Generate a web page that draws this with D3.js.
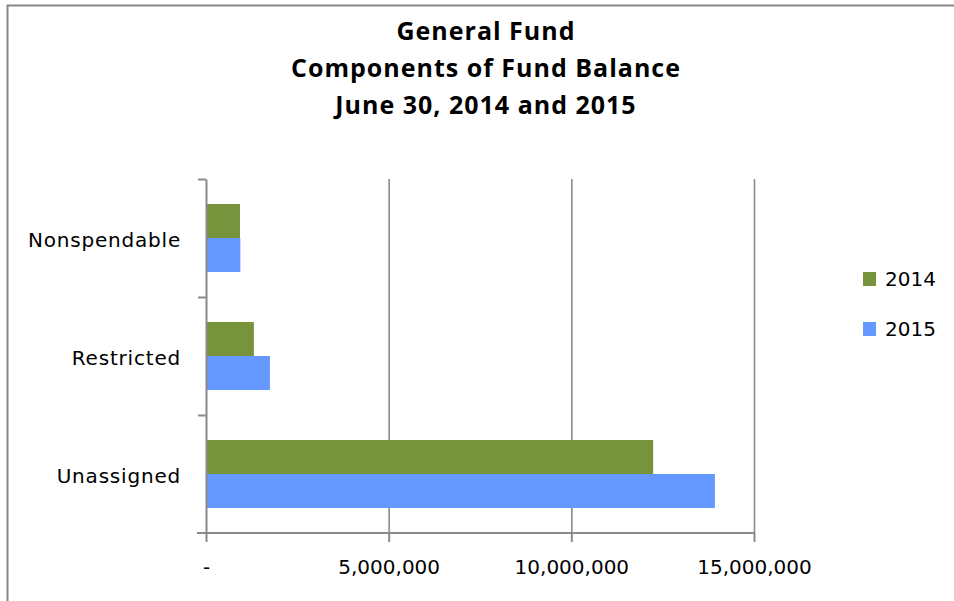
<!DOCTYPE html>
<html>
<head>
<meta charset="utf-8">
<script src="https://cdn.jsdelivr.net/npm/d3@7"></script>
<style>
  body { margin: 0; background: #fff; }
  svg { display: block; }
</style>
</head>
<body>
<svg></svg>
<script>
var width = 954;
var height = 601;

var categories = ["Nonspendable", "Restricted", "Unassigned"];
var years = ["2014", "2015"];
var values2014 = [930000, 1310000, 12240000];
var values2015 = [940000, 1750000, 13930000];
var xTicks = [0, 5000000, 10000000, 15000000];
var titleLines = ["General Fund", "Components of Fund Balance", "June 30, 2014 and 2015"];
var colors = ["#77933c", "#6699ff"];

var plotLeft = 206, plotRight = 754, plotTop = 179, plotBottom = 533;
var labelFont = "'DejaVu Sans', sans-serif";

var svg = d3.select("svg")
    .attr("width", width)
    .attr("height", height);

// chart frame
svg.append("rect")
    .attr("x", 7.5).attr("y", 5.5)
    .attr("width", 960).attr("height", 620)
    .attr("fill", "none")
    .attr("stroke", "#878787")
    .attr("stroke-width", 2);

var xScale = d3.scaleLinear()
    .domain([0, 15000000])
    .range([plotLeft, plotRight]);

var yScale = d3.scaleBand()
    .domain(categories)
    .range([plotTop, plotBottom]);

var subScale = d3.scaleBand()
    .domain(years)
    .range([0, yScale.bandwidth()])
    .paddingOuter(0.735);

// gridlines
var grid = d3.axisBottom(xScale)
    .tickValues(xTicks.slice(1))
    .tickSize(-(plotBottom - plotTop))
    .tickFormat("");
svg.append("g")
    .attr("transform", "translate(0," + plotBottom + ")")
    .call(grid)
    .call(g => g.select(".domain").remove())
    .call(g => g.selectAll("line").attr("stroke", "#8a8a8a").attr("stroke-width", 1.6));

// bars
var rows = categories.map((c, i) => ({cat: c, vals: [values2014[i], values2015[i]]}));
svg.append("g")
  .selectAll("g")
  .data(rows)
  .enter()
  .append("g")
    .attr("transform", d => "translate(0," + yScale(d.cat) + ")")
  .selectAll("rect")
  .data(d => d.vals.map((v, j) => ({year: years[j], v: v, j: j})))
  .enter()
  .append("rect")
    .attr("x", xScale(0))
    .attr("y", d => subScale(d.year))
    .attr("width", d => xScale(d.v) - xScale(0))
    .attr("height", subScale.bandwidth())
    .attr("fill", d => colors[d.j]);

// x axis
var xAxis = d3.axisBottom(xScale)
    .tickValues(xTicks)
    .tickSize(9)
    .tickPadding(18)
    .tickSizeOuter(0)
    .tickFormat(d => d === 0 ? "-" : d3.format(",")(d));
svg.append("g")
    .attr("transform", "translate(0," + plotBottom + ")")
    .call(xAxis)
    .call(g => g.select(".domain").attr("stroke", "#8a8a8a").attr("stroke-width", 2)
        .attr("d", "M" + (plotLeft - 9) + ",0H" + plotRight))
    .call(g => g.selectAll("line").attr("stroke", "#8a8a8a").attr("stroke-width", 2))
    .call(g => g.selectAll("text")
        .style("font-family", labelFont)
        .style("font-size", "20px")
        .attr("fill", "#000"));

// y axis boundary ticks
var yEdges = d3.scaleLinear().domain([0, 3]).range([plotTop, plotBottom]);
svg.append("g")
    .attr("transform", "translate(" + plotLeft + ",0)")
    .call(d3.axisLeft(yEdges).tickValues([0, 1, 2]).tickSize(8).tickSizeOuter(0).tickFormat(""))
    .call(g => g.select(".domain").attr("stroke", "#8a8a8a").attr("stroke-width", 2))
    .call(g => g.selectAll("line").attr("stroke", "#8a8a8a").attr("stroke-width", 2));

// category labels
svg.append("g")
    .attr("transform", "translate(" + plotLeft + ",0)")
    .call(d3.axisLeft(yScale).tickSize(0).tickPadding(25))
    .call(g => g.select(".domain").remove())
    .call(g => g.selectAll("text")
        .attr("dy", "0.47em")
        .style("font-family", labelFont)
        .style("font-size", "20px")
        .style("letter-spacing", "0.8px")
        .attr("fill", "#000"));

// title
svg.append("text")
    .attr("x", 486)
    .attr("y", 40)
    .style("text-anchor", "middle")
    .style("font-family", "'Open Sans', sans-serif")
    .style("font-weight", "bold")
    .style("font-size", "25px")
    .style("letter-spacing", "1px")
  .selectAll("tspan")
  .data(titleLines)
  .enter()
  .append("tspan")
    .attr("x", 486)
    .attr("dy", (d, i) => i === 0 ? 0 : 37)
    .text(d => d);

// legend
var legend = svg.append("g")
  .selectAll("g")
  .data(years)
  .enter()
  .append("g")
    .attr("transform", (d, i) => "translate(863," + (272 + i * 50) + ")");
legend.append("rect")
    .attr("width", 13).attr("height", 14)
    .attr("fill", (d, i) => colors[i]);
legend.append("text")
    .attr("x", 22)
    .attr("y", 7)
    .attr("dy", "0.35em")
    .style("font-family", labelFont)
    .style("font-size", "20px")
    .text(d => d);
</script>
</body>
</html>
